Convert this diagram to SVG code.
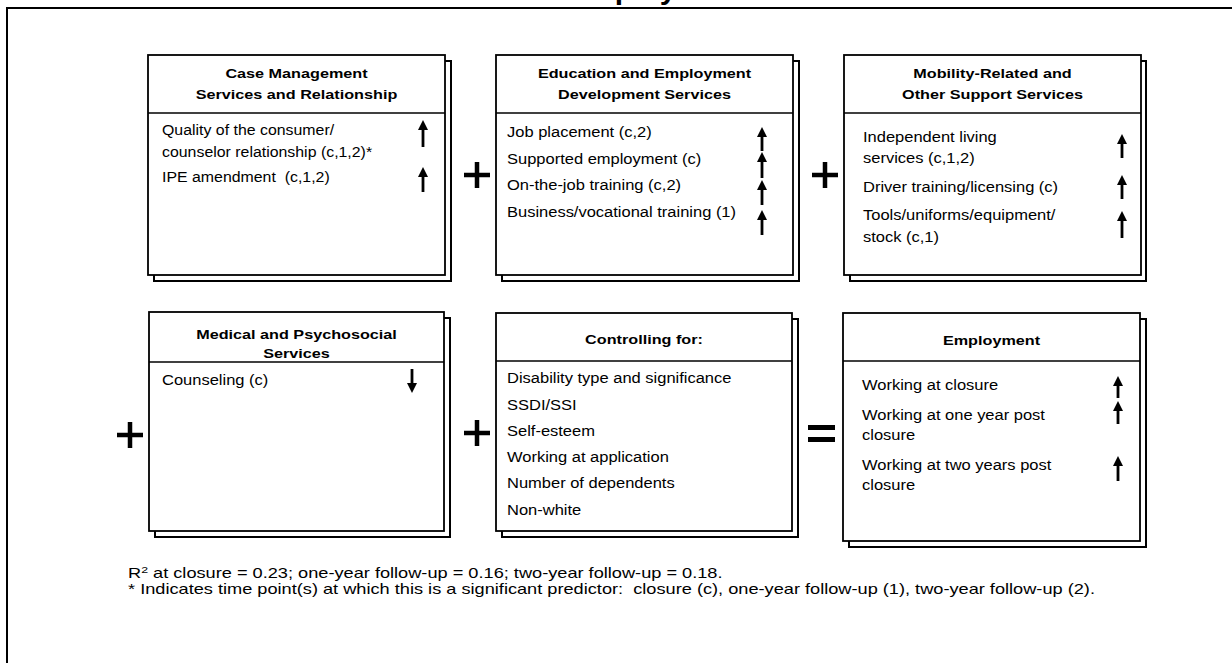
<svg xmlns="http://www.w3.org/2000/svg" width="1232" height="663" viewBox="0 0 1232 663">
<style>
.box{fill:#fff;stroke:#000;stroke-width:1.8}
.sh{fill:#fff;stroke:#000;stroke-width:2}
.div{stroke:#000;stroke-width:1.6}
.h{font-family:"Liberation Sans",Arial,sans-serif;font-weight:bold;font-size:13.5px;text-anchor:middle;fill:#000}
.t{font-family:"Liberation Sans",Arial,sans-serif;font-size:15px;fill:#000}
.f{font-family:"Liberation Sans",Arial,sans-serif;font-size:14px;fill:#000}
.ar{stroke:#000;stroke-width:2.8;marker-end:url(#ah)}
.op{stroke:#000;stroke-width:4.5}
</style>
<defs>
<marker id="ah" viewBox="0 0 10 10" refX="0" refY="5" markerWidth="10" markerHeight="11" markerUnits="userSpaceOnUse" orient="auto">
<path d="M0,0 L10,5 L0,10 z" fill="#000"/>
</marker>
</defs>
<rect width="1232" height="663" fill="#fff"/>
<path d="M7,663 V8 H1232" fill="none" stroke="#000" stroke-width="2"/>
<text class="h" style="font-size:30px;text-anchor:start" x="568" y="-1">Employment</text>

<g id="case-management">
<rect class="sh" x="154" y="61" width="297" height="220"/>
<rect class="box" x="148" y="55" width="297" height="220"/>
<line class="div" x1="148" y1="113" x2="445" y2="113"/>
<text class="h" transform="translate(296.5 77.5) scale(1.2 1)">Case Management</text>
<text class="h" transform="translate(296.5 98.5) scale(1.2 1)">Services and Relationship</text>
<text class="t" transform="translate(162 135) scale(1.06 1)">Quality of the consumer/</text>
<text class="t" transform="translate(162 157) scale(1.06 1)">counselor relationship (c,1,2)*</text>
<text class="t" xml:space="preserve" transform="translate(162 182) scale(1.06 1)">IPE amendment  (c,1,2)</text>
<line class="ar" x1="423" y1="147" x2="423" y2="130"/>
<line class="ar" x1="423" y1="192" x2="423" y2="177"/>
</g>

<g id="education-employment">
<rect class="sh" x="502" y="61" width="297" height="220"/>
<rect class="box" x="496" y="55" width="297" height="220"/>
<line class="div" x1="496" y1="113" x2="793" y2="113"/>
<text class="h" transform="translate(644.5 77.5) scale(1.2 1)">Education and Employment</text>
<text class="h" transform="translate(644.5 98.5) scale(1.2 1)">Development Services</text>
<text class="t" transform="translate(507 137) scale(1.1 1)">Job placement (c,2)</text>
<text class="t" transform="translate(507 163.5) scale(1.1 1)">Supported employment (c)</text>
<text class="t" transform="translate(507 190) scale(1.1 1)">On-the-job training (c,2)</text>
<text class="t" transform="translate(507 217) scale(1.1 1)">Business/vocational training (1)</text>
<line class="ar" x1="762" y1="151" x2="762" y2="137"/>
<line class="ar" x1="762" y1="178" x2="762" y2="162"/>
<line class="ar" x1="762" y1="205" x2="762" y2="190"/>
<line class="ar" x1="762" y1="235" x2="762" y2="220"/>
</g>

<g id="mobility-support">
<rect class="sh" x="850" y="61" width="296" height="220"/>
<rect class="box" x="844" y="55" width="297" height="220"/>
<line class="div" x1="844" y1="113" x2="1141" y2="113"/>
<text class="h" transform="translate(992.5 77.5) scale(1.2 1)">Mobility-Related and</text>
<text class="h" transform="translate(992.5 98.5) scale(1.2 1)">Other Support Services</text>
<text class="t" transform="translate(863 142) scale(1.1 1)">Independent living</text>
<text class="t" transform="translate(863 163) scale(1.1 1)">services (c,1,2)</text>
<text class="t" transform="translate(863 192) scale(1.1 1)">Driver training/licensing (c)</text>
<text class="t" transform="translate(863 220) scale(1.1 1)">Tools/uniforms/equipment/</text>
<text class="t" transform="translate(863 242) scale(1.1 1)">stock (c,1)</text>
<line class="ar" x1="1122" y1="158" x2="1122" y2="144"/>
<line class="ar" x1="1122" y1="199" x2="1122" y2="185"/>
<line class="ar" x1="1122" y1="238" x2="1122" y2="221"/>
</g>

<g id="medical-psychosocial">
<rect class="sh" x="155" y="318" width="295" height="219"/>
<rect class="box" x="149" y="312" width="295" height="219"/>
<line class="div" x1="149" y1="362" x2="444" y2="362"/>
<text class="h" transform="translate(296.5 338.5) scale(1.2 1)">Medical and Psychosocial</text>
<text class="h" transform="translate(296.5 358) scale(1.2 1)">Services</text>
<text class="t" transform="translate(162 385) scale(1.1 1)">Counseling (c)</text>
<line class="ar" x1="412" y1="369" x2="412" y2="383"/>
</g>

<g id="controlling-for">
<rect class="sh" x="502" y="319" width="296" height="218"/>
<rect class="box" x="496" y="313" width="296" height="218"/>
<line class="div" x1="496" y1="361" x2="792" y2="361"/>
<text class="h" transform="translate(644 343.5) scale(1.2 1)">Controlling for:</text>
<text class="t" transform="translate(507 382.5) scale(1.1 1)">Disability type and significance</text>
<text class="t" transform="translate(507 410) scale(1.1 1)">SSDI/SSI</text>
<text class="t" transform="translate(507 435.5) scale(1.1 1)">Self-esteem</text>
<text class="t" transform="translate(507 462) scale(1.1 1)">Working at application</text>
<text class="t" transform="translate(507 488) scale(1.1 1)">Number of dependents</text>
<text class="t" transform="translate(507 514.5) scale(1.1 1)">Non-white</text>
</g>

<g id="employment">
<rect class="sh" x="849" y="319" width="297" height="228"/>
<rect class="box" x="843" y="313" width="297" height="228"/>
<line class="div" x1="843" y1="361" x2="1140" y2="361"/>
<text class="h" transform="translate(991.5 344.5) scale(1.2 1)">Employment</text>
<text class="t" transform="translate(862 389.5) scale(1.1 1)">Working at closure</text>
<text class="t" transform="translate(862 420) scale(1.1 1)">Working at one year post</text>
<text class="t" transform="translate(862 439.5) scale(1.1 1)">closure</text>
<text class="t" transform="translate(862 470) scale(1.1 1)">Working at two years post</text>
<text class="t" transform="translate(862 489.5) scale(1.1 1)">closure</text>
<line class="ar" x1="1118" y1="398" x2="1118" y2="386"/>
<line class="ar" x1="1118" y1="424" x2="1118" y2="411"/>
<line class="ar" x1="1118" y1="481" x2="1118" y2="466"/>
</g>

<g id="connectors">
<path class="op" d="M464,175 H490 M477,162 V188"/>
<path class="op" d="M812,175 H838 M825,162 V188"/>
<path class="op" d="M117,435 H143 M130,422 V448"/>
<path class="op" d="M464,433 H490 M477,420 V446"/>
<path d="M808,427.5 H835 M808,439.5 H835" stroke="#000" stroke-width="5"/>
</g>

<g id="notes">
<text class="f" transform="translate(128 578) scale(1.3 1)">R<tspan font-size="9.5" dy="-5">2</tspan><tspan dy="5"> at closure = 0.23; one-year follow-up = 0.16; two-year follow-up = 0.18.</tspan></text>
<text class="f" xml:space="preserve" transform="translate(128 594) scale(1.3 1)">* Indicates time point(s) at which this is a significant predictor:  closure (c), one-year follow-up (1), two-year follow-up (2).</text>
</g>
</svg>
